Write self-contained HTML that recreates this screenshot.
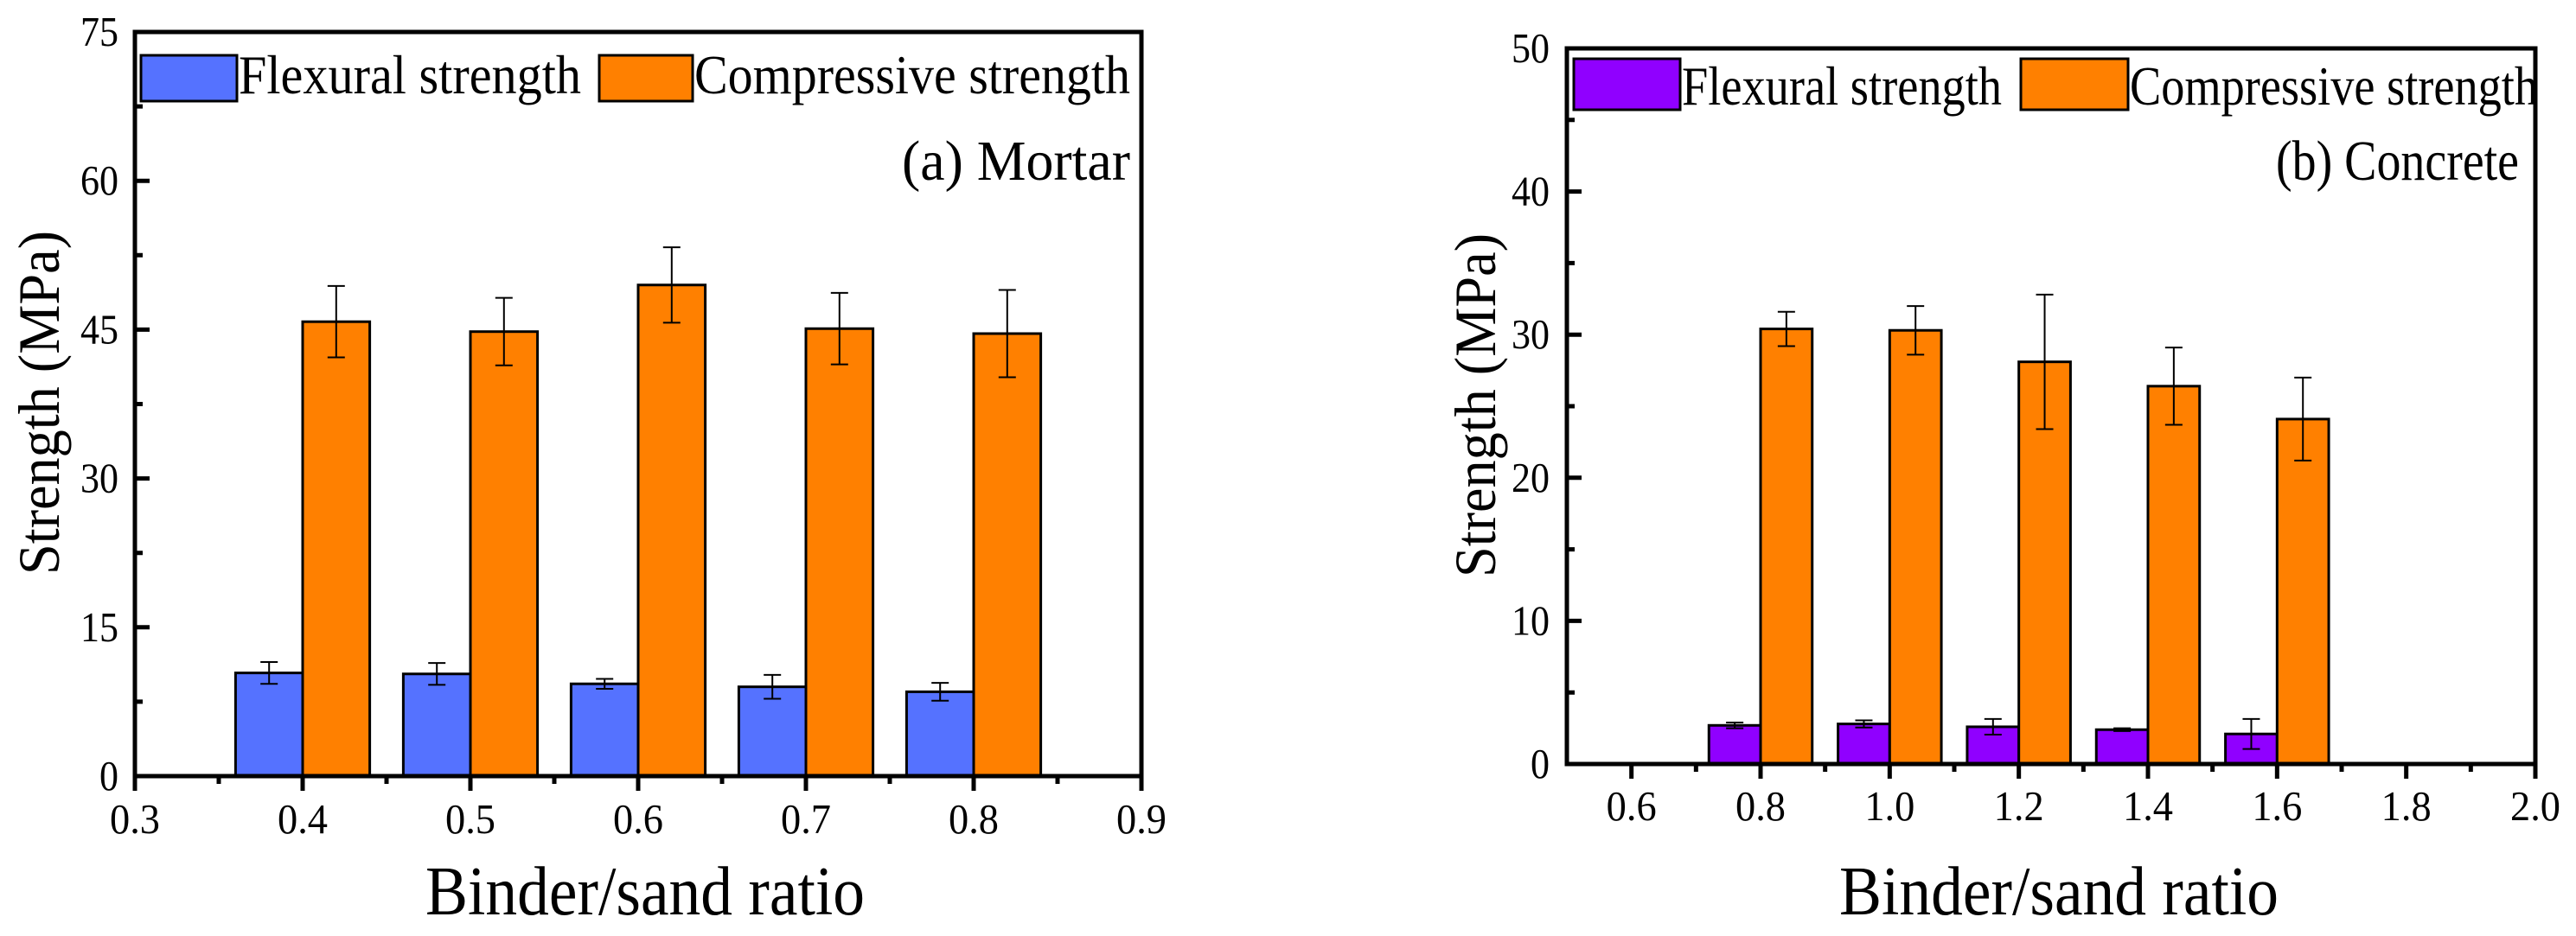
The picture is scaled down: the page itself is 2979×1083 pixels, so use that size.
<!DOCTYPE html>
<html><head><meta charset="utf-8"><style>
html,body{margin:0;padding:0;background:#fff}
svg{display:block;font-family:"Liberation Serif",serif}
</style></head><body>
<svg id="fig" width="2979" height="1083" viewBox="0 0 2979 1083" xmlns="http://www.w3.org/2000/svg"></svg>
<script>
// Panel (a) Mortar
const catsA = [0.4, 0.5, 0.6, 0.7, 0.8];
const flexA = [10.4, 10.3, 9.3, 9.0, 8.5];
const flexErrA = [1.1, 1.1, 0.5, 1.2, 0.9];
const compA = [45.8, 44.8, 49.5, 45.1, 44.6];
const compErrA = [3.6, 3.4, 3.8, 3.6, 4.4];
const xTicksA = ["0.3", "0.4", "0.5", "0.6", "0.7", "0.8", "0.9"];
const yTicksA = ["0", "15", "30", "45", "60", "75"];
// Panel (b) Concrete
const catsB = [0.8, 1.0, 1.2, 1.4, 1.6];
const flexB = [2.7, 2.8, 2.6, 2.4, 2.1];
const flexErrB = [0.2, 0.25, 0.55, 0.1, 1.05];
const compB = [30.4, 30.3, 28.1, 26.4, 24.1];
const compErrB = [1.2, 1.7, 4.7, 2.7, 2.9];
const xTicksB = ["0.6", "0.8", "1.0", "1.2", "1.4", "1.6", "1.8", "2.0"];
const yTicksB = ["0", "10", "20", "30", "40", "50"];

const NS = "http://www.w3.org/2000/svg";
const svg = document.getElementById('fig');
function mk(tag, attrs, parent, text) {
  const e = document.createElementNS(NS, tag);
  for (const k in attrs) e.setAttribute(k, attrs[k]);
  if (text !== undefined) e.textContent = text;
  (parent || svg).appendChild(e);
  return e;
}

function panel(cfg) {
  const g = mk('g', {});
  
  
  const sx = v => cfg.x0 + (v - cfg.xmin) / (cfg.xmax - cfg.xmin) * (cfg.x1 - cfg.x0);
  const sy = v => cfg.y0 - (v - cfg.ymin) / (cfg.ymax - cfg.ymin) * (cfg.y0 - cfg.y1);
  const drawSeries = (vals, errs, off, color, nm) => {
    cfg.cats.forEach((c, i) => {
      const xl = sx(c + off - cfg.bw / 2), xr = sx(c + off + cfg.bw / 2);
      const yt = sy(vals[i]);
      const r = mk('rect', {x: xl, y: yt, width: xr - xl, height: sy(0) - yt, fill: color, stroke: '#000', 'stroke-width': 3}, g);
      
      
      const xc = sx(c + off);
      const eb = mk('path', {d: `M${xc},${sy(vals[i]+errs[i])}V${sy(vals[i]-errs[i])}M${xc-10},${sy(vals[i]+errs[i])}H${xc+10}M${xc-10},${sy(vals[i]-errs[i])}H${xc+10}`, stroke: '#000', 'stroke-width': 2, fill: 'none'}, g);
      
      
    });
  };
  drawSeries(cfg.flex, cfg.flexErr, -cfg.bw / 2, cfg.flexColor, 'flexural');
  drawSeries(cfg.comp, cfg.compErr, cfg.bw / 2, '#ff8000', 'compressive');
  const fr = mk('rect', {x: cfg.x0, y: cfg.y1, width: cfg.x1 - cfg.x0, height: cfg.y0 - cfg.y1, fill: 'none', stroke: '#000', 'stroke-width': 5}, g);
  
  
  const xs = cfg.xTicks.map(Number);
  const step = xs[1] - xs[0];
  let d = '';
  xs.forEach(v => { d += `M${sx(v)},${cfg.y0}v17`; });
  for (let i = 0; i < xs.length; i++) {
    [xs[i] - step / 2, xs[i] + step / 2].forEach(m => {
      if (m > cfg.xmin + 1e-6 && m < cfg.xmax - 1e-6 && (i === 0 || m > xs[i])) d += `M${sx(m)},${cfg.y0}v9`;
    });
  }
  const ys = cfg.yTicks.map(Number);
  const ystep = ys[1] - ys[0];
  ys.forEach(v => { d += `M${cfg.x0},${sy(v)}h17`; });
  ys.slice(0, -1).forEach(v => { d += `M${cfg.x0},${sy(v + ystep / 2)}h9`; });
  const tk = mk('path', {d: d, stroke: '#000', 'stroke-width': 5, fill: 'none'}, g);
  
  
  cfg.xTicks.forEach(t => {
    const e = mk('text', {x: sx(Number(t)), y: cfg.xLabBase, 'font-size': 49, 'text-anchor': 'middle', textLength: 58, lengthAdjust: 'spacingAndGlyphs'}, g, t);
    
    
  });
  cfg.yTicks.forEach(t => {
    const e = mk('text', {x: cfg.yLabRight, y: sy(Number(t)) + 16, 'font-size': 49, 'text-anchor': 'end', textLength: t.length * 22, lengthAdjust: 'spacingAndGlyphs'}, g, t);
    
    
  });
  const xt = mk('text', {x: cfg.xTitleX, y: 1058, 'font-size': 80, 'text-anchor': 'middle', textLength: 508, lengthAdjust: 'spacingAndGlyphs'}, g, 'Binder/sand ratio');
  
  
  const yt = mk('text', {x: 0, y: 0, 'font-size': 68, 'text-anchor': 'middle', textLength: 398, lengthAdjust: 'spacingAndGlyphs', transform: `translate(${cfg.yTitleX},${cfg.yTitleY}) rotate(-90)`}, g, 'Strength (MPa)');
  
  
  const L = cfg.leg;
  const l1 = mk('rect', {x: L.r1[0], y: L.ry[0], width: L.r1[1] - L.r1[0], height: L.ry[1] - L.ry[0], fill: cfg.flexColor, stroke: '#000', 'stroke-width': 3}, g);
  
  
  const t1 = mk('text', {x: L.r1[1] + 2, y: L.base, 'font-size': 64, textLength: L.t1w, lengthAdjust: 'spacingAndGlyphs'}, g, 'Flexural strength');
  
  
  const l2 = mk('rect', {x: L.r2[0], y: L.ry[0], width: L.r2[1] - L.r2[0], height: L.ry[1] - L.ry[0], fill: '#ff8000', stroke: '#000', 'stroke-width': 3}, g);
  
  
  const t2 = mk('text', {x: L.r2[1] + 2, y: L.base, 'font-size': 64, textLength: L.t2w, lengthAdjust: 'spacingAndGlyphs'}, g, 'Compressive strength');
  
  
  const pt = mk('text', {x: cfg.ptX, y: 208, 'font-size': 66, 'text-anchor': 'end', textLength: cfg.ptW, lengthAdjust: 'spacingAndGlyphs'}, g, cfg.panelTitle);
  
  
}

panel({name: 'panel-a-mortar', cats: catsA, flex: flexA, flexErr: flexErrA, comp: compA, compErr: compErrA,
  xTicks: xTicksA, yTicks: yTicksA, xmin: 0.3, xmax: 0.9, ymin: 0, ymax: 75, bw: 0.04,
  x0: 156, x1: 1320, y0: 898, y1: 37, flexColor: '#5572ff', xLabBase: 964, yLabRight: 137,
  xTitleX: 746, yTitleX: 68, yTitleY: 466, ptX: 1307, ptW: 264, panelTitle: '(a) Mortar',
  leg: {r1: [163, 274], r2: [693, 801], ry: [64, 117], base: 108, t1w: 396, t2w: 504}});
panel({name: 'panel-b-concrete', cats: catsB, flex: flexB, flexErr: flexErrB, comp: compB, compErr: compErrB,
  xTicks: xTicksB, yTicks: yTicksB, xmin: 0.5, xmax: 2.0, ymin: 0, ymax: 50, bw: 0.08,
  x0: 1812, x1: 2932, y0: 884, y1: 56, flexColor: '#9000ff', xLabBase: 949, yLabRight: 1792,
  xTitleX: 2381, yTitleX: 1729, yTitleY: 469, ptX: 2913, ptW: 281, panelTitle: '(b) Concrete',
  leg: {r1: [1820, 1943], r2: [2337, 2461], ry: [68, 127], base: 121, t1w: 370, t2w: 472}});
</script>
</body></html>
